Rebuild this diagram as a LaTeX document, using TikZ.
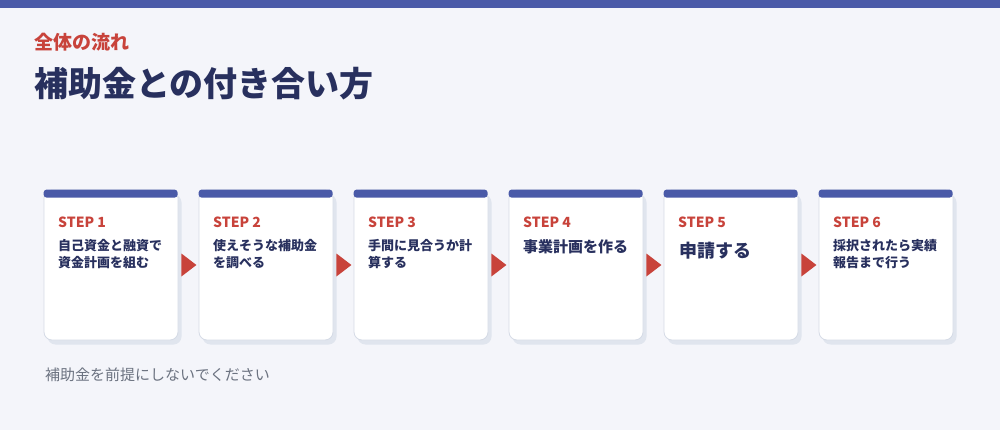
\documentclass[tikz,border=0pt]{standalone}
\usepackage{fontspec}
\setmainfont{Noto Sans CJK JP}
\usetikzlibrary{shadows}
\definecolor{bgc}{HTML}{F4F5FA}
\definecolor{barc}{HTML}{4A5AA8}
\definecolor{redc}{HTML}{C8433B}
\definecolor{navyc}{HTML}{28305E}
\definecolor{borderc}{HTML}{D5DBE6}
\definecolor{shadowc}{HTML}{E0E5EE}
\definecolor{greyc}{HTML}{6B7280}
\begin{document}
\begin{tikzpicture}[x=1pt,y=-1pt,
    card/.style={draw=borderc, line width=0.8pt, fill=white, rounded corners=8pt,
      minimum width=134pt, minimum height=150pt, inner sep=0pt,
      drop shadow={shadow xshift=3.5pt, shadow yshift=-4.5pt, fill=shadowc, opacity=1}},
    bar/.style={fill=barc, rounded corners=3pt},
    lbl/.style={anchor=west, inner sep=0pt, text=redc, font=\fontsize{14}{14}\selectfont\bfseries},
    txt/.style={anchor=north west, inner sep=0pt, align=left, text=navyc,
      font=\fontsize{13}{17}\selectfont\bfseries},
    tri/.style={fill=redc}]
        % background
        \fill[bgc] (0,0) rectangle (1000,430);
        \fill[barc] (0,0) rectangle (1000,8);

        % titles
        \node[anchor=west, inner sep=0pt, text=redc, font=\fontsize{19}{19}\selectfont\bfseries] (kicker) at (34,42.5) {全体の流れ};
        \node[anchor=west, inner sep=0pt, text=navyc, font=\fontsize{34}{34}\selectfont\bfseries] (title) at (34,83.5) {補助金との付き合い方};

        % cards
        \node[card] (card1) at (111,265) {};
        \node[card] (card2) at (266,265) {};
        \node[card] (card3) at (421,265) {};
        \node[card] (card4) at (576,265) {};
        \node[card] (card5) at (731,265) {};
        \node[card] (card6) at (886,265) {};
        \fill[bar] (card1.north west) rectangle ++(134,8);
        \fill[bar] (card2.north west) rectangle ++(134,8);
        \fill[bar] (card3.north west) rectangle ++(134,8);
        \fill[bar] (card4.north west) rectangle ++(134,8);
        \fill[bar] (card5.north west) rectangle ++(134,8);
        \fill[bar] (card6.north west) rectangle ++(134,8);

        % arrows
        \fill[tri] ([xshift=3pt,yshift=11.5pt]card1.east) -- ++(15,11.5) -- ++(-15,11.5) -- cycle;
        \fill[tri] ([xshift=3pt,yshift=11.5pt]card2.east) -- ++(15,11.5) -- ++(-15,11.5) -- cycle;
        \fill[tri] ([xshift=3pt,yshift=11.5pt]card3.east) -- ++(15,11.5) -- ++(-15,11.5) -- cycle;
        \fill[tri] ([xshift=3pt,yshift=11.5pt]card4.east) -- ++(15,11.5) -- ++(-15,11.5) -- cycle;
        \fill[tri] ([xshift=3pt,yshift=11.5pt]card5.east) -- ++(15,11.5) -- ++(-15,11.5) -- cycle;

        % labels
        \node[lbl] (lbl1) at (58,222) {STEP 1};
        \node[lbl] (lbl2) at (213,222) {STEP 2};
        \node[lbl] (lbl3) at (368,222) {STEP 3};
        \node[lbl] (lbl4) at (523,222) {STEP 4};
        \node[lbl] (lbl5) at (678,222) {STEP 5};
        \node[lbl] (lbl6) at (833,222) {STEP 6};
        \node[txt] (txt1) at (58,239.5) {自己資金と融資で\\資金計画を組む};
        \node[txt] (txt2) at (213,239.5) {使えそうな補助金\\を調べる};
        \node[txt] (txt3) at (368,239.5) {手間に見合うか計\\算する};
        \node[txt, font=\fontsize{15}{19}\selectfont\bfseries] (txt4) at (523,239) {事業計画を作る};
        \node[txt, font=\fontsize{18}{22}\selectfont\bfseries] (txt5) at (679,241.5) {申請する};
        \node[txt] (txt6) at (833,239.5) {採択されたら実績\\報告まで行う};

        % note
        \node[anchor=west, inner sep=0pt, text=greyc, font=\fontsize{15}{15}\selectfont] (note) at (45,374.5) {補助金を前提にしないでください};
    \end{tikzpicture}
\end{document}
